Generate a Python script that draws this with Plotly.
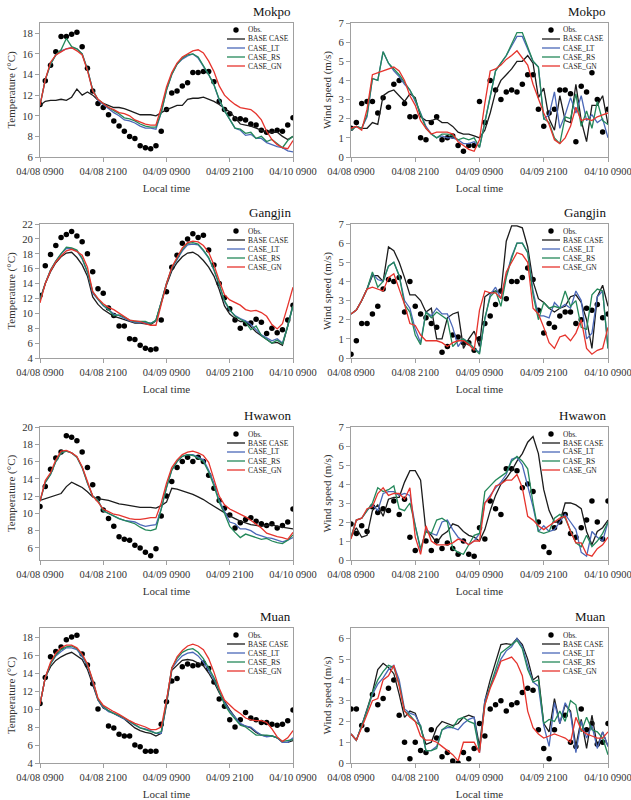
import plotly.graph_objects as go

# ---------------- data ----------------
hours = list(range(49))  # hours since 04/08 0900 LT
tick_vals = [0, 12, 24, 36, 48]
tick_text = ["04/08 0900", "04/08 2100", "04/09 0900", "04/09 2100", "04/10 0900"]
series_names = ["Obs.", "BASE CASE", "CASE_LT", "CASE_RS", "CASE_GN"]
series_colors = ["#000000", "#1c1c1c", "#4b68b8", "#24885a", "#e6342d"]
stations = ["Mokpo", "Gangjin", "Hwawon", "Muan"]

# Mokpo temperature
mokpo_t_obs = [11.1, 13.4, 14.9, 16.2, 17.7, 17.7, 17.9, 18.1, 16.7, 14.6, 12.4, 11.2,
               10.8, 10.1, 9.5, 9.0, 8.5, 8.0, 7.8, 7.1, 6.9, 6.8, 7.1, 8.5,
               10.6, 12.2, 12.4, 12.9, 13.2, 14.2, 14.2, 14.3, 14.3, 13.3, 11.4, 10.6,
               10.2, 9.7, 9.7, 9.6, 9.2, 9.1, 8.6, 8.4, 8.5, 8.6, 8.5, 9.1, 9.8]
mokpo_t_base = [11.0, 11.4, 11.5, 11.5, 11.6, 11.5, 11.8, 12.6, 12.0, 12.3, 12.0, 11.5,
                11.2, 11.0, 10.8, 10.8, 10.7, 10.5, 10.3, 10.1, 10.1, 10.1, 10.0, 10.3,
                10.6, 10.8, 11.0, 11.0, 11.6, 11.7, 11.7, 11.8, 11.6, 11.4, 11.1, 10.7,
                10.4, 9.8, 9.2, 9.1, 9.0, 8.8, 8.6, 8.4, 8.4, 8.4, 8.0, 7.7, 8.0]
mokpo_t_lt = [11.0, 13.5, 15.0, 15.9, 16.3, 16.5, 16.6, 16.5, 16.0, 14.5, 12.5, 11.5,
              11.1, 10.7, 10.3, 10.0, 9.6, 9.5, 9.3, 9.0, 8.8, 8.8, 8.7, 10.3,
              12.5, 14.0, 15.0, 15.5, 15.8, 16.0, 15.6, 14.8, 14.0, 13.0, 11.5, 10.5,
              9.6, 8.8, 8.6, 8.1, 8.2, 7.8, 7.8, 7.4, 7.2, 7.0, 6.9, 6.6, 6.5]
mokpo_t_rs = [11.0, 13.5, 15.0, 15.9, 16.4, 17.5, 16.7, 16.5, 16.0, 14.5, 12.5, 11.6,
              11.2, 10.8, 10.5, 10.2, 9.8, 9.7, 9.5, 9.2, 9.0, 8.9, 8.9, 10.3,
              12.5, 14.0, 15.0, 15.6, 15.9, 16.0, 15.7, 14.9, 14.0, 13.0, 11.6, 10.5,
              9.7, 8.8, 8.7, 8.3, 8.4, 7.8, 8.0, 7.5, 7.7, 7.3, 6.9, 7.6, 8.0]
mokpo_t_gn = [11.0, 13.5, 15.2, 15.9, 16.2, 16.5, 16.6, 16.3, 15.9, 14.4, 12.4, 11.6,
              11.2, 10.8, 10.6, 10.3, 10.2, 10.0, 9.6, 9.4, 9.2, 9.1, 9.1, 10.8,
              12.8, 14.2, 15.1, 15.7, 16.0, 16.3, 16.4, 16.1, 15.3, 14.3, 12.9, 12.0,
              11.5, 11.1, 10.8, 10.7, 10.6, 10.2, 9.6, 8.5, 7.7, 7.2, 6.9, 6.8, 7.6]

# Mokpo wind speed
mokpo_w_obs = [1.5, 1.8, 2.8, 2.9, 2.9, 2.3, 3.1, 2.6, 3.8, 4.0, 2.8, 2.1,
               2.1, 1.0, 0.9, 1.8, 2.1, 0.9, 1.0, 1.1, 0.6, 0.3, 0.6, 0.6,
               2.9, 1.8, 4.0, 3.5, 3.0, 3.4, 3.5, 3.4, 3.8, 4.3, 4.3, 2.5,
               1.6, 2.3, 2.5, 3.5, 3.5, 3.3, 0.8, 3.7, 3.4, 4.4, 3.0, 1.3, 2.5]
mokpo_w_base = [1.5, 1.6, 1.5, 1.5, 1.8, 1.7, 3.2, 3.4, 3.5, 3.2, 2.9, 3.3,
                3.1, 2.1, 1.9, 1.9, 2.0, 1.8, 1.8, 1.6, 1.3, 1.2, 1.2, 1.1,
                1.0, 1.4, 2.3, 3.4, 4.0, 4.3, 4.6, 5.0, 5.0, 5.3, 4.9, 3.1,
                3.6, 2.0, 1.4, 3.2, 1.9, 1.8, 3.8, 1.9, 0.8, 2.7, 2.7, 3.2, 1.7]
mokpo_w_lt = [1.4, 1.6, 1.5, 2.1, 4.1, 4.0, 5.5, 4.9, 4.5, 4.2, 3.8, 3.5,
              2.9, 2.3, 1.6, 1.2, 1.0, 1.1, 1.0, 1.0, 0.9, 0.7, 0.7, 0.8,
              0.5, 1.8, 3.2, 4.5, 4.9, 5.3, 5.8, 6.3, 6.3, 5.6, 5.0, 4.7,
              2.0, 2.2, 3.4, 1.5, 2.2, 3.1, 2.3, 3.2, 1.9, 2.2, 1.8, 2.0, 1.0]
mokpo_w_rs = [1.4, 1.6, 1.5, 2.2, 4.1, 4.0, 5.5, 4.9, 4.6, 4.3, 3.9, 3.5,
              3.0, 2.3, 1.5, 1.2, 1.0, 1.2, 1.2, 1.1, 0.9, 1.0, 0.9, 1.0,
              0.5, 1.8, 3.2, 4.5, 4.9, 5.3, 5.9, 6.5, 6.5, 5.8, 5.0, 4.7,
              2.0, 1.8, 1.0, 0.7, 2.1, 2.0, 3.3, 1.6, 2.4, 1.5, 2.9, 1.9, 1.7]
mokpo_w_gn = [1.5, 1.6, 1.4, 2.5, 4.3, 4.4, 4.5, 4.6, 4.7, 4.5, 4.0, 3.2,
              2.7, 1.9, 1.5, 1.2, 1.3, 1.3, 1.3, 1.2, 0.8, 0.6, 0.4, 0.3,
              0.9, 2.8, 4.5, 4.6, 4.8, 5.1, 5.3, 5.55, 5.2, 4.8, 3.8, 3.0,
              2.3, 1.7, 0.9, 0.7, 1.0, 1.6, 2.6, 1.9, 2.0, 1.9, 2.1, 2.2, 2.3]

# Gangjin temperature
gangjin_t_obs = [12.4, 16.4, 17.9, 19.1, 20.2, 20.6, 21.0, 20.4, 19.6, 18.0, 15.6, 13.3,
                 12.7, 10.7, 9.7, 8.3, 8.3, 6.6, 6.5, 5.7, 5.3, 5.1, 5.2, 9.1,
                 12.9, 16.2, 17.8, 19.4, 20.0, 20.7, 20.2, 20.5, 18.5, 16.5, 14.0, 12.1,
                 10.6, 9.1, 8.0, 8.6, 8.7, 9.2, 8.8, 7.3, 8.0, 7.4, 7.8, 9.1, 11.1]
gangjin_t_base = [11.8, 14.0, 15.6, 16.8, 17.6, 18.1, 18.2, 17.5, 16.5, 15.0, 12.2, 11.2,
                  10.5, 10.1, 9.6, 9.4, 9.2, 8.9, 8.7, 8.7, 8.6, 8.5, 9.0, 11.5,
                  13.8, 15.7, 16.8, 17.6, 18.1, 18.2, 17.8, 17.1, 16.2, 15.0, 13.2, 11.0,
                  9.9, 9.3, 8.9, 8.9, 8.2, 7.5, 7.0, 6.5, 6.0, 6.1, 5.7, 8.3, 11.2]
gangjin_t_lt = [11.8, 14.0, 15.8, 17.0, 18.0, 18.7, 18.7, 18.4, 17.3, 15.5, 12.7, 11.8,
                11.0, 10.5, 9.9, 9.7, 9.3, 9.0, 8.8, 8.8, 8.8, 8.7, 9.0, 11.5,
                14.0, 16.0, 17.3, 18.4, 19.2, 19.3, 19.2, 18.4, 17.4, 15.8, 13.8, 11.6,
                10.4, 9.7, 9.3, 9.0, 8.5, 7.8, 7.1, 6.7, 6.3, 6.6, 6.0, 8.3, 11.0]
gangjin_t_rs = [11.8, 14.0, 15.8, 17.0, 18.0, 18.9, 18.8, 18.5, 17.4, 15.6, 12.9, 11.9,
                11.1, 10.5, 9.7, 9.8, 9.5, 9.1, 8.9, 8.9, 8.9, 8.6, 9.1, 11.5,
                14.0, 16.1, 17.4, 18.6, 19.4, 19.5, 19.3, 18.5, 17.5, 15.9, 13.9, 11.7,
                10.5, 9.6, 9.2, 8.8, 7.8, 8.3, 7.0, 6.5, 6.0, 6.4, 5.9, 8.3, 11.0]
gangjin_t_gn = [11.4, 14.0, 15.7, 16.9, 17.7, 18.4, 18.6, 18.3, 17.8, 16.2, 12.9, 12.0,
                11.3, 10.8, 10.5, 10.0, 9.6, 9.1, 9.0, 8.9, 8.6, 8.4, 8.4, 11.3,
                14.0, 16.2, 17.6, 18.8, 19.5, 19.7, 19.6, 19.1, 18.2, 16.5, 14.4, 12.5,
                11.8, 11.5, 11.1, 10.5, 10.3, 10.4, 10.1, 9.6, 8.5, 7.9, 8.6, 11.0, 13.5]

# Gangjin wind speed
gangjin_w_obs = [0.2, 0.9, 1.8, 1.8, 2.3, 2.7, 3.6, 4.1, 4.0, 4.2, 2.4, 4.0,
                 2.7, 2.3, 2.1, 1.8, 1.6, 0.3, 0.6, 1.2, 1.1, 0.8, 0.8, 0.4,
                 1.0, 1.8, 2.2, 2.8, 3.5, 3.1, 4.0, 4.0, 4.2, 4.7, 4.1, 2.5,
                 1.3, 1.8, 1.6, 2.2, 2.4, 2.4, 1.8, 2.0, 2.6, 2.5, 2.8, 2.1, 2.3]
gangjin_w_base = [2.3, 2.5, 3.0, 3.6, 4.3, 4.3, 4.0, 5.8, 5.6, 5.0, 4.2, 3.3,
                  3.3, 3.0, 2.4, 2.6, 1.0, 1.0, 2.1, 2.3, 2.4, 0.5, 1.0, 1.4,
                  0.6, 3.2, 3.4, 3.5, 3.4, 6.1, 6.9, 6.9, 6.8, 5.8, 4.0, 3.1,
                  2.9, 2.6, 2.4, 2.6, 2.7, 3.2, 3.3, 2.9, 2.0, 0.5, 3.2, 3.8, 2.7]
gangjin_w_lt = [2.3, 2.5, 3.0, 3.6, 4.4, 4.1, 4.0, 4.8, 5.0, 4.3, 3.0, 2.6,
                1.5, 0.8, 2.4, 2.2, 2.6, 2.3, 2.3, 1.6, 0.6, 1.0, 0.8, 0.5,
                0.3, 2.0, 3.3, 3.7, 3.1, 4.3, 5.3, 6.0, 6.0, 5.5, 3.5, 2.2,
                2.2, 2.1, 2.9, 2.6, 2.8, 2.6, 3.5, 3.0, 1.0, 1.3, 3.2, 3.5, 0.5]
gangjin_w_rs = [2.3, 2.5, 3.0, 3.6, 4.5, 3.7, 4.0, 4.8, 5.0, 4.3, 2.8, 2.4,
                1.2, 0.7, 2.4, 2.1, 2.4, 2.2, 2.0, 0.6, 0.9, 1.0, 0.8, 0.5,
                0.2, 2.1, 3.2, 3.5, 2.7, 4.2, 5.2, 6.0, 6.0, 5.5, 3.3, 2.0,
                2.9, 2.6, 2.7, 2.6, 3.5, 2.7, 3.0, 1.6, 1.5, 3.3, 3.6, 3.5, 0.5]
gangjin_w_gn = [2.3, 2.5, 3.0, 3.6, 3.7, 3.6, 3.5, 4.2, 4.4, 3.6, 2.8, 1.8,
                1.7, 1.2, 0.9, 0.9, 0.9, 0.8, 0.6, 0.8, 0.9, 0.9, 0.7, 0.4,
                2.5, 3.5, 3.4, 3.4, 3.1, 4.5, 5.0, 5.5, 5.4, 5.0, 2.6, 2.3,
                1.6, 0.8, 0.5, 1.1, 1.2, 0.9, 1.3, 2.0, 0.5, 0.2, 0.4, 0.5, 1.6]

# Hwawon temperature
hwawon_t_obs = [10.8, 13.1, 15.1, 16.4, 17.1, 19.0, 18.8, 18.4, 17.1, 15.3, 13.3, 11.7,
                10.4, 9.4, 8.5, 7.3, 7.0, 6.9, 6.3, 6.0, 5.5, 5.1, 5.9, 9.7,
                12.0, 13.7, 15.3, 16.0, 16.5, 16.0, 16.5, 16.0, 14.4, 12.9, 11.5, 10.6,
                9.8, 8.3, 8.9, 9.3, 9.5, 9.1, 8.8, 8.6, 8.8, 8.3, 8.6, 9.0, 10.5]
hwawon_t_base = [11.5, 11.7, 11.9, 12.1, 12.3, 13.1, 13.6, 13.3, 13.0, 12.5, 11.9, 11.7,
                 11.6, 11.5, 11.3, 11.1, 11.0, 10.9, 10.8, 10.7, 10.7, 10.7, 10.6, 10.9,
                 11.3, 12.9, 12.8, 12.6, 12.4, 12.2, 11.9, 11.6, 11.2, 10.8, 10.4, 10.0,
                 9.7, 9.4, 9.1, 8.9, 8.7, 8.6, 8.5, 8.6, 8.7, 8.5, 8.4, 8.3, 8.2]
hwawon_t_lt = [11.4, 13.6, 14.5, 16.0, 17.0, 17.2, 17.0, 16.5, 15.3, 13.5, 12.0, 11.5,
               10.3, 10.0, 9.7, 9.4, 9.2, 9.1, 9.0, 8.7, 8.5, 8.6, 8.7, 10.5,
               13.0, 15.0, 16.0, 16.6, 16.8, 16.8, 16.5, 16.2, 15.0, 13.5, 11.5, 10.2,
               9.0, 8.8, 8.2, 8.2, 8.0, 7.6, 7.4, 7.2, 7.1, 6.9, 6.7, 6.9, 7.2]
hwawon_t_rs = [11.4, 13.6, 14.5, 16.0, 17.0, 17.2, 17.0, 16.5, 15.3, 13.5, 12.0, 11.5,
               10.3, 10.0, 9.7, 9.4, 9.2, 9.0, 8.8, 8.4, 8.1, 8.0, 8.2, 10.5,
               13.0, 15.0, 16.0, 16.6, 16.8, 16.7, 16.4, 16.0, 14.8, 13.2, 11.3, 10.0,
               8.5, 7.8, 7.2, 7.6, 7.4, 7.2, 7.0, 7.1, 6.8, 6.6, 6.5, 6.9, 7.5]
hwawon_t_gn = [11.4, 13.8, 14.7, 16.2, 17.2, 17.3, 17.0, 16.6, 15.4, 13.6, 12.0, 11.3,
               10.5, 10.2, 9.9, 9.8, 9.6, 9.4, 9.3, 9.3, 9.4, 9.5, 9.5, 11.2,
               13.5, 15.3, 16.2, 16.8, 17.1, 17.2, 17.0, 16.7, 15.9, 14.0, 12.0, 11.0,
               10.5, 10.2, 9.9, 9.6, 9.2, 8.8, 8.3, 7.7, 7.5, 7.3, 7.2, 7.0, 7.8]

# Hwawon wind speed
hwawon_w_obs = [1.9, 1.4, 1.8, 1.5, 2.8, 2.5, 2.7, 2.6, 3.1, 2.4, 3.2, 1.2,
                0.5, None, 1.0, 0.5, 1.0, 0.6, 0.9, 0.6, 0.3, 1.0, 0.3, 0.2,
                1.7, 1.1, 3.1, 2.7, 2.4, 4.8, 4.8, 4.7, 3.8, 4.0, 3.6, 2.0,
                0.7, 0.4, 1.7, 2.0, 2.4, 1.4, 1.2, 1.7, 2.1, 3.1, 2.0, 1.1, 3.1]
hwawon_w_base = [1.2, 1.7, 1.2, 1.3, 2.6, 2.9, 2.3, 3.2, 3.3, 3.3, 4.1, 4.7,
                 4.7, 4.2, 1.5, 1.3, 0.9, 1.3, 1.5, 1.9, 1.8, 1.5, 1.3, 1.2,
                 1.0, 1.6, 2.6, 3.4, 4.0, 4.3, 4.7, 5.2, 5.6, 6.2, 6.5, 5.6,
                 3.7, 2.6, 2.0, 2.0, 3.0, 3.0, 2.9, 2.7, 1.5, 0.8, 1.5, 1.7, 2.1]
hwawon_w_lt = [1.2, 2.1, 2.2, 2.6, 2.9, 2.6, 3.5, 3.6, 3.6, 3.4, 3.5, 3.4,
               1.8, 0.5, 1.6, 1.4, 1.3, 2.0, 2.1, 1.6, 1.2, 1.0, 0.8, 1.0,
               1.4, 3.0, 3.4, 3.8, 4.1, 4.5, 5.3, 5.4, 5.0, 3.9, 2.8, 1.5,
               1.8, 1.5, 1.6, 2.0, 2.4, 2.0, 1.6, 0.4, 0.2, 1.5, 1.2, 1.0, 2.0]
hwawon_w_rs = [1.2, 2.1, 2.2, 2.6, 3.0, 3.8, 3.6, 3.7, 3.9, 2.7, 2.6, 3.0,
               1.8, 0.6, 1.5, 1.4, 2.1, 2.2, 2.0, 0.6, 0.4, 0.3, 0.8, 1.3,
               1.4, 3.6, 3.9, 4.2, 4.4, 4.6, 5.2, 5.45, 5.2, 4.8, 3.0, 1.5,
               1.4, 1.5, 2.2, 2.4, 2.2, 1.5, 0.9, 0.7, 1.3, 0.7, 1.0, 1.4, 2.0]
hwawon_w_gn = [1.1, 2.1, 2.2, 2.7, 2.8, 3.5, 3.8, 3.4, 3.5, 3.5, 3.2, 3.8,
               1.2, 0.3, 1.8, 1.0, 0.8, 0.8, 0.8, 0.9, 1.1, 1.0, 0.8, 1.0,
               1.0, 3.0, 3.3, 3.9, 4.0, 4.2, 4.2, 4.5, 3.8, 2.3, 2.1, 1.8,
               1.6, 1.8, 2.0, 2.2, 2.3, 1.5, 0.9, 0.9, 0.3, 0.2, 0.6, 0.8, 1.2]

# Muan temperature
muan_t_obs = [10.6, 13.5, 15.8, 16.4, 16.9, 17.7, 18.0, 18.2, 16.1, 14.9, 12.8, 10.0,
              None, 8.1, 7.9, 7.2, 7.0, 7.0, 6.0, 5.8, 5.3, 5.3, 5.3, 8.3,
              10.8, 13.1, 13.4, 14.7, 15.0, 14.8, 14.9, 15.1, 14.5, 13.0, 11.1, 10.3,
              8.8, 8.0, 8.8, 9.6, 9.0, 8.8, 8.5, 8.5, 8.3, 8.2, 8.3, 8.7, 9.9]
muan_t_base = [10.5, 13.5, 14.7, 15.4, 15.8, 16.1, 16.3, 15.9, 15.5, 14.4, 12.8, 11.0,
               10.1, 9.8, 9.5, 9.2, 8.9, 8.4, 7.9, 7.6, 7.4, 7.3, 7.0, 7.3,
               10.5, 14.3, 14.9, 15.4, 15.5, 15.4, 15.1, 14.8, 14.0, 13.0, 11.8, 10.8,
               9.9, 9.1, 8.3, 8.1, 7.9, 7.4, 7.1, 7.0, 7.0, 6.8, 6.3, 6.3, 6.5]
muan_t_lt = [10.5, 13.5, 15.0, 15.9, 16.4, 16.8, 16.8, 16.6, 15.8, 14.8, 13.0, 11.0,
             10.2, 9.7, 9.5, 9.2, 8.9, 8.6, 8.2, 7.9, 7.8, 7.6, 7.3, 7.3,
             10.8, 14.5, 15.3, 15.9, 16.2, 16.3, 15.9, 15.2, 14.3, 13.3, 12.0, 10.7,
             9.8, 9.1, 8.4, 8.1, 8.0, 7.5, 7.1, 6.9, 7.0, 6.8, 6.3, 6.3, 6.8]
muan_t_rs = [10.5, 13.5, 15.0, 16.0, 16.6, 16.9, 17.0, 16.7, 16.0, 14.9, 13.2, 11.1,
             10.3, 9.8, 9.5, 9.3, 9.0, 8.6, 8.2, 7.9, 7.7, 7.5, 7.3, 7.5,
             10.8, 14.6, 15.6, 16.3, 16.6, 16.7, 16.3, 15.6, 14.6, 13.5, 12.0, 10.5,
             9.6, 8.9, 8.2, 8.0, 7.5, 7.1, 7.1, 7.1, 7.0, 6.8, 6.4, 6.5, 6.6]
muan_t_gn = [10.5, 13.5, 15.2, 16.2, 16.8, 17.1, 17.1, 16.8, 16.1, 15.0, 13.2, 11.2,
             10.4, 10.0, 9.7, 9.4, 9.0, 8.7, 8.4, 8.2, 8.0, 7.7, 7.7, 8.0,
             11.0, 14.5, 15.8, 16.5, 17.0, 17.2, 17.0, 16.6, 15.6, 14.1, 12.3, 11.0,
             10.4, 9.9, 9.5, 9.0, 8.8, 8.7, 8.7, 8.5, 7.8, 6.9, 6.4, 6.8, 7.6]

# Muan wind speed
muan_w_obs = [2.6, 2.6, 1.8, 1.6, 3.3, 2.8, 3.1, 3.6, 4.0, 2.3, 1.0, 0.2,
              1.0, 0.6, 0.5, 1.6, 1.2, 0.3, 0.5, 0.1, 0.0, 0.5, 0.2, 0.7,
              1.9, 1.3, 2.6, 2.8, 3.0, 2.5, 2.8, 2.9, 3.4, 3.6, 3.5, 1.6,
              0.7, 0.2, 1.6, None, 2.3, 1.0, 0.8, 2.6, 1.6, 1.9, 0.9, 1.0, 1.9]
muan_w_base = [1.4, 1.1, 1.8, 2.6, 3.4, 4.5, 4.8, 4.6, 4.3, 3.3, 2.2, 2.5,
               2.4, 1.7, 0.9, 1.0, 1.7, 2.0, 1.9, 1.8, 1.9, 2.2, 2.3, 2.2,
               0.8, 3.0, 4.0, 4.8, 5.7, 5.75, 5.7, 6.0, 5.7, 5.0, 4.0, 4.2,
               1.9, 1.5, 3.1, 1.9, 2.8, 2.5, 0.8, 2.1, 0.7, 2.3, 0.8, 1.5, 0.8]
muan_w_lt = [1.4, 1.1, 1.8, 2.5, 3.3, 3.8, 4.1, 4.5, 4.7, 4.0, 2.6, 2.4,
             2.3, 1.8, 0.6, 0.6, 0.8, 1.6, 1.7, 1.7, 1.6, 1.9, 2.1, 2.2,
             0.5, 3.0, 3.7, 4.3, 5.0, 5.4, 5.6, 6.0, 5.6, 4.7, 3.9, 3.7,
             1.8, 0.8, 2.9, 1.9, 2.9, 2.4, 0.5, 2.0, 1.2, 1.8, 0.7, 1.5, 0.8]
muan_w_rs = [1.4, 1.1, 1.8, 2.5, 3.4, 4.0, 4.4, 4.7, 4.6, 3.8, 2.5, 2.3,
             2.0, 1.8, 0.6, 0.6, 0.7, 1.6, 1.8, 1.7, 2.1, 2.2, 2.0, 1.9,
             0.6, 2.8, 3.7, 4.5, 5.3, 5.5, 5.7, 5.9, 5.5, 4.5, 3.9, 4.0,
             1.9, 2.1, 2.0, 2.5, 2.0, 3.0, 2.8, 1.5, 2.2, 1.6, 1.5, 1.2, 0.4]
muan_w_gn = [1.4, 1.1, 1.7, 2.4, 3.0, 3.1, 4.0, 4.2, 4.7, 3.7, 2.5, 2.2,
             2.0, 1.3, 1.1, 1.1, 1.0, 0.8, 0.6, 0.4, 0.1, 1.0, 1.0, 1.0,
             0.5, 2.8, 3.6, 4.2, 4.9, 5.0, 5.1, 4.8, 4.2, 2.5, 1.7, 1.4,
             1.2, 1.3, 1.4, 1.3, 1.2, 1.0, 2.2, 1.6, 1.4, 1.3, 1.2, 1.2, 1.5]

temp_sets = [
    [mokpo_t_obs, mokpo_t_base, mokpo_t_lt, mokpo_t_rs, mokpo_t_gn],
    [gangjin_t_obs, gangjin_t_base, gangjin_t_lt, gangjin_t_rs, gangjin_t_gn],
    [hwawon_t_obs, hwawon_t_base, hwawon_t_lt, hwawon_t_rs, hwawon_t_gn],
    [muan_t_obs, muan_t_base, muan_t_lt, muan_t_rs, muan_t_gn],
]
wind_sets = [
    [mokpo_w_obs, mokpo_w_base, mokpo_w_lt, mokpo_w_rs, mokpo_w_gn],
    [gangjin_w_obs, gangjin_w_base, gangjin_w_lt, gangjin_w_rs, gangjin_w_gn],
    [hwawon_w_obs, hwawon_w_base, hwawon_w_lt, hwawon_w_rs, hwawon_w_gn],
    [muan_w_obs, muan_w_base, muan_w_lt, muan_w_rs, muan_w_gn],
]
temp_ranges = [[6, 19], [4, 22], [4.6, 20], [4, 19]]
wind_ranges = [[0, 7], [0, 7], [0, 7], [0, 6.5]]

# ---------------- layout (pixels) ----------------
W, H = 631, 800
col_x = [(40, 293), (351, 608)]
row_y = [(23, 157), (224, 358), (427, 560), (628, 763)]
SERIF = "Liberation Serif, Times New Roman, serif"
AX = "#a0a0a0"


def px_x(p):
    return p / W


def px_y(p):
    return 1 - p / H


fig = go.Figure()
shapes = []
annotations = []

for r in range(4):
    for c in range(2):
        n = r * 2 + c + 1
        xs = "" if n == 1 else str(n)
        data = temp_sets[r] if c == 0 else wind_sets[r]
        for k, (name, col, ys) in enumerate(zip(series_names, series_colors, data)):
            if k == 0:
                fig.add_trace(go.Scatter(x=hours, y=ys, mode="markers", name=name,
                                         marker=dict(color=col, size=5.5),
                                         xaxis="x" + xs, yaxis="y" + xs, showlegend=False))
            else:
                fig.add_trace(go.Scatter(x=hours, y=ys, mode="lines", name=name,
                                         line=dict(color=col, width=1.3),
                                         xaxis="x" + xs, yaxis="y" + xs, showlegend=False))
        x0, x1 = col_x[c]
        y0, y1 = row_y[r]
        fig.layout["xaxis" + xs] = dict(
            domain=[px_x(x0), px_x(x1)], anchor="y" + xs, range=[0, 48],
            tickmode="array", tickvals=tick_vals, ticktext=tick_text,
            ticks="outside", ticklen=4, tickcolor=AX, showline=True, linecolor=AX,
            mirror=True, showgrid=False, zeroline=False, automargin=False,
            ticklabeloverflow="allow",
            tickfont=dict(family=SERIF, size=10.5, color="#333"),
            title=dict(text="Local time", font=dict(family=SERIF, size=11, color="#333"),
                       standoff=8))
        if c == 0:
            rng, dt, ttl = temp_ranges[r], 2, "Temperature (°C)"
        else:
            rng, dt, ttl = wind_ranges[r], 1, "Wind speed (m/s)"
        fig.layout["yaxis" + xs] = dict(
            domain=[px_y(y1), px_y(y0)], anchor="x" + xs, range=rng,
            tick0=0, dtick=dt, ticks="outside", ticklen=4, tickcolor=AX,
            showline=True, linecolor=AX, mirror=True, showgrid=False, zeroline=False,
            automargin=False, tickfont=dict(family=SERIF, size=10.7, color="#333"),
            title=dict(text=ttl, font=dict(family=SERIF, size=11, color="#333"), standoff=4))
        # station title
        annotations.append(dict(text=stations[r], x=px_x(x1), y=px_y(y0 - 11.5),
                                xref="paper", yref="paper", xanchor="right", yanchor="middle",
                                showarrow=False, font=dict(family=SERIF, size=13, color="#111")))
        # legend (drawn manually to match the compact original)
        for k, (name, col) in enumerate(zip(series_names, series_colors)):
            ly = y0 + 7 + k * 9
            if k == 0:
                cx = x1 - 57
                shapes.append(dict(type="circle", xref="paper", yref="paper",
                                   x0=px_x(cx - 2.7), x1=px_x(cx + 2.7),
                                   y0=px_y(ly + 2.7), y1=px_y(ly - 2.7),
                                   fillcolor=col, line=dict(width=0)))
            else:
                shapes.append(dict(type="line", xref="paper", yref="paper",
                                   x0=px_x(x1 - 66), x1=px_x(x1 - 48),
                                   y0=px_y(ly), y1=px_y(ly),
                                   line=dict(color=col, width=1.3)))
            annotations.append(dict(text=name, x=px_x(x1 - 47), y=px_y(ly),
                                    xref="paper", yref="paper", xanchor="left",
                                    yanchor="middle", showarrow=False,
                                    font=dict(family=SERIF, size=7.5, color="#222")))

fig.update_layout(width=W, height=H, margin=dict(l=0, r=0, t=0, b=0),
                  paper_bgcolor="white", plot_bgcolor="white", showlegend=False,
                  shapes=shapes, annotations=annotations,
                  font=dict(family=SERIF))
fig.write_html("out.html")
